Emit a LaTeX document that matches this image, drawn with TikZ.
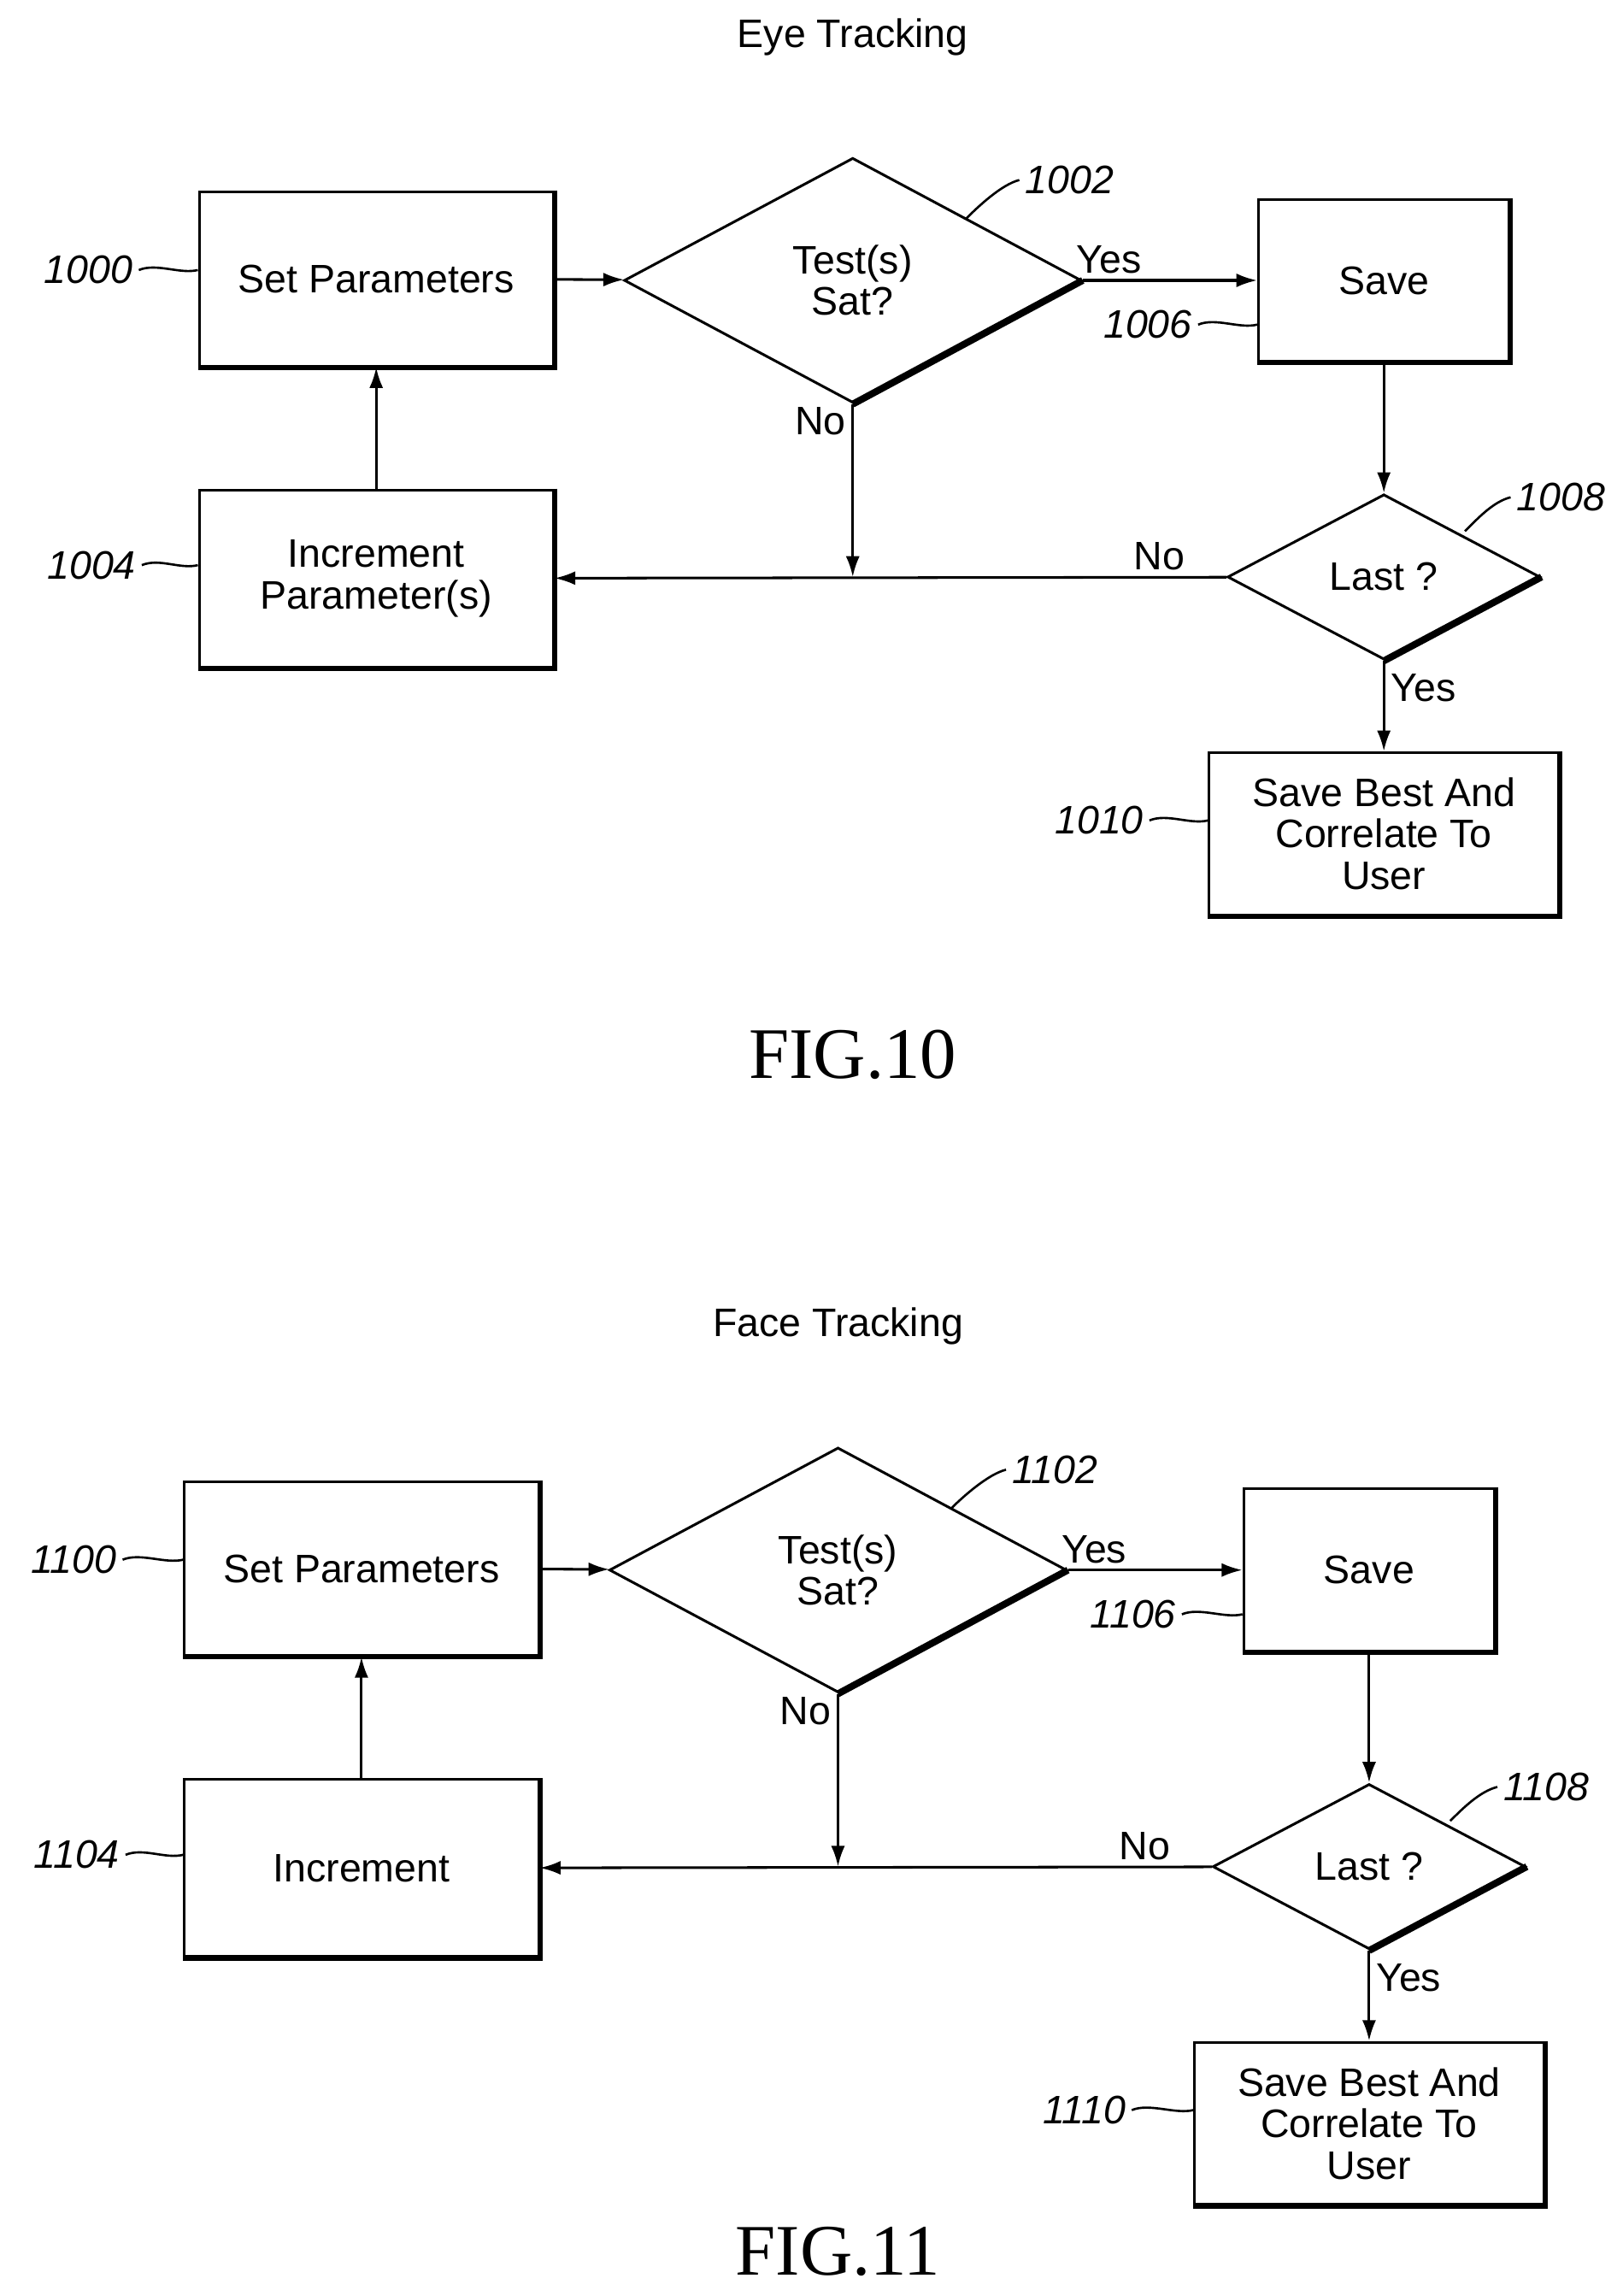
\documentclass[tikz,border=0pt]{standalone}
\usepackage{fontspec}
\setmainfont{Liberation Sans}
\newfontfamily\figfont{Liberation Serif}
\usetikzlibrary{shapes.geometric,arrows.meta}

\begin{document}
\begin{tikzpicture}
	[x=0.03cm,y=-0.03cm,>={Latex[length=12pt,width=8pt]},
	every node/.style={font=\fontsize{23}{24}\selectfont},
	box/.style={rectangle,draw,line width=1.5pt,align=center,inner sep=0pt},
	dia/.style={diamond,draw,line width=1.5pt,align=center,inner sep=0pt},
	num/.style={font=\fontsize{23}{24}\selectfont\itshape},
	link/.style={line width=1.3pt},
	arr/.style={line width=1.5pt,->}]
	\useasboundingbox (0,0) rectangle (1100,1556);
	\foreach \fig/\dx/\dy/\fy/\title/\inc in {10/0/0/715/Eye Tracking/{Increment\\Parameter(s)},11/-10/874/652/Face Tracking/Increment}{
	\begin{scope}[shift={(\dx*0.03cm,-\dy*0.03cm)}]
	\node (title) at (578,25) {\title};
	\node (setp) [box,minimum width=7.2cm,minimum height=3.54cm] at (255,189) {Set Parameters};
	\node (test) [dia,minimum width=9.3cm,minimum height=4.98cm] at (578,190) {Test(s)\\Sat?};
	\node (save) [box,minimum width=5.1cm,minimum height=3.3cm] at (938,190) {Save};
	\node (last) [dia,minimum width=6.36cm,minimum height=3.36cm] at (938,391) {Last ?};
	\node (incr) [box,minimum width=7.2cm,minimum height=3.6cm] at (255,392) {\inc};
	\node (best) [box,minimum width=7.1cm,minimum height=3.3cm] at (938,565) {Save Best And\\Correlate To\\User};
	\node (fig) at (578,\fy) {\figfont\fontsize{42}{44}\selectfont FIG.\fig};
	% thick edges
	\foreach \b in {setp,save,incr,best}
		\draw [line width=3pt] (\b.north east) -- (\b.south east) -- (\b.south west);
	\draw [line width=4pt] (test.east) -- (test.south);
	\draw [line width=4pt] (last.east) -- (last.south);
	% reference numbers
	\node (n0) [num] at (60,183) {\fig00};
	\node (n2) [num] at (725,122) {\fig02};
	\node (n6) [num] at (778,220) {\fig06};
	\node (n8) [num] at (1058,337) {\fig08};
	\node (n4) [num] at (62,383) {\fig04};
	\node (n10) [num] at (745,556) {\fig10};
	\draw [link] (n0.east) .. controls +(12,-5) and +(-12,3) .. (setp.west |- n0.east);
	\draw [link] (n4.east) .. controls +(12,-5) and +(-12,3) .. (incr.west |- n4.east);
	\draw [link] (n10.east) .. controls +(12,-5) and +(-12,3) .. (best.west |- n10.east);
	\draw [link] (n6.east) .. controls +(12,-5) and +(-12,3) .. (save.west |- n6.east);
	\draw [link] (n2.west) .. controls +(-12,3) and +(8,-8) .. (655,148);
	\draw [link] (n8.west) .. controls +(-12,3) and +(8,-8) .. (993,360);
	% connectors
	\coordinate (j) at (578,391);
	\draw [arr] (setp) -- (test);
	\draw [arr] (test) -- node [pos=0.15,above] {Yes} (save);
	\draw [arr] (save) -- (last);
	\draw [arr] (last) -- node [pos=0.1,above] {No} (incr);
	\draw [arr] (test) -- node [pos=0.1,left] {No} (j);
	\draw [arr] (incr) -- (setp);
	\draw [arr] (last) -- node [pos=0.3,right] {Yes} (best);
	\end{scope}
	}
\end{tikzpicture}
\end{document}
